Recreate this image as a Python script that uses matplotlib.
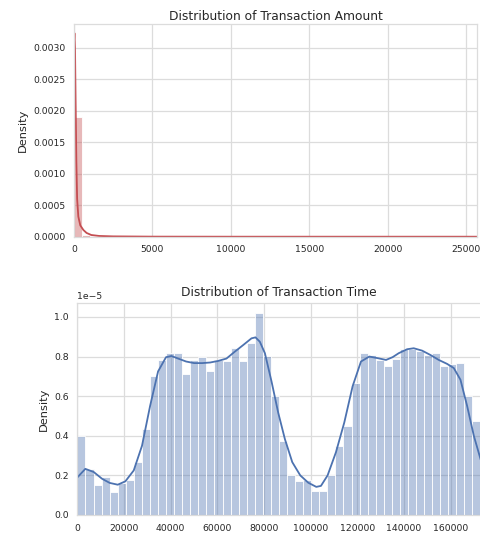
import numpy as np
import matplotlib
matplotlib.use("Agg")
import matplotlib.pyplot as plt

# ---------------- data ----------------
amount_range = [0.0, 25691.16]
amount_hist = [1.9e-3, 3.3e-5, 7.8e-6, 2.9e-6, 1.4e-6, 8e-7, 5e-7, 3e-7, 2e-7, 1.5e-7,
               1e-7, 8e-8, 6e-8, 5e-8, 4e-8, 3e-8, 2e-8, 2e-8, 1e-8, 1e-8,
               1e-8, 1e-8, 5e-9, 5e-9, 5e-9, 5e-9, 5e-9, 3e-9, 3e-9, 3e-9,
               2e-9, 2e-9, 2e-9, 1e-9, 1e-9, 1e-9, 1e-9, 1e-9, 1e-9, 1e-9,
               1e-9, 1e-9, 1e-9, 1e-9, 1e-9, 1e-9, 1e-9, 1e-9, 1e-9, 1e-9]
amount_kde_x = [0, 30, 64, 100, 150, 200, 275, 400, 600, 800, 1100, 1600, 2500, 5000, 10000, 25691.16]
amount_kde_y = [3.10e-3, 3.23e-3, 3.0e-3, 2.2e-3, 1.2e-3, 6.0e-4, 3.2e-4, 1.8e-4, 1.06e-4,
                6.0e-5, 2.7e-5, 1.2e-5, 5e-6, 1e-6, 0.0, 0.0]

time_range = [0.0, 172792.0]
time_hist = [0.40, 0.23, 0.153, 0.19, 0.117, 0.16, 0.175, 0.267, 0.433, 0.703,
             0.783, 0.82, 0.82, 0.713, 0.783, 0.797, 0.728, 0.783, 0.78, 0.845,
             0.778, 0.867, 1.02, 0.803, 0.60, 0.375, 0.20, 0.17, 0.175, 0.12,
             0.12, 0.20, 0.35, 0.45, 0.667, 0.817, 0.81, 0.785, 0.75, 0.79,
             0.84, 0.84, 0.83, 0.81, 0.82, 0.75, 0.76, 0.77, 0.60, 0.475]  # x 1e-5
time_kde_x = [0, 3400, 7000, 10560, 13850, 17300, 20560, 24150, 27700, 31150,
              34580, 38000, 40300, 43170, 46600, 50030, 53460, 56900, 60330, 63900,
              67500, 71050, 74620, 76340, 78200, 80370, 83200, 86070, 88950, 92100,
              95530, 98970, 102400, 104400, 107250, 110830, 114400, 117970, 121560, 125130,
              128700, 132300, 135120, 137740, 141330, 144170, 147760, 151330, 154900, 158480,
              161340, 164200, 167070, 169930, 172792]
time_kde_y = [0.19, 0.233, 0.217, 0.183, 0.162, 0.153, 0.17, 0.225, 0.35, 0.55,
              0.725, 0.797, 0.803, 0.79, 0.775, 0.767, 0.767, 0.77, 0.778, 0.79,
              0.825, 0.858, 0.892, 0.897, 0.875, 0.817, 0.675, 0.517, 0.383, 0.267,
              0.20, 0.163, 0.142, 0.147, 0.20, 0.317, 0.467, 0.65, 0.775, 0.80,
              0.792, 0.783, 0.797, 0.817, 0.837, 0.842, 0.83, 0.808, 0.783, 0.763,
              0.742, 0.683, 0.55, 0.40, 0.283]  # x 1e-5
time_scale = 1e-5

amount_xticks = [0, 5000, 10000, 15000, 20000, 25000]
amount_yticks = [0.0, 0.0005, 0.0010, 0.0015, 0.0020, 0.0025, 0.0030]
time_xticks = [0, 20000, 40000, 60000, 80000, 100000, 120000, 140000, 160000]
time_yticks = [0.0, 0.2e-5, 0.4e-5, 0.6e-5, 0.8e-5, 1.0e-5]

# ---------------- style ----------------
plt.rcParams['font.family'] = ['DejaVu Sans']
TXT = '#262626'
GRID = '#dcdcdc'
TICK_FS = 6.7
TITLE_FS = 8.8
LABEL_FS = 8.2

fig = plt.figure(figsize=(4.8, 5.41), dpi=100)
ax1 = fig.add_axes([74 / 480, 1 - 236.7 / 541, (477 - 74) / 480, (236.7 - 24) / 541])
ax2 = fig.add_axes([77.4 / 480, 1 - 515 / 541, (480.5 - 77.4) / 480, (515 - 302.7) / 541])


def style(ax):
    ax.set_facecolor('white')
    ax.grid(True, color=GRID, linewidth=0.9)
    ax.set_axisbelow(True)
    for s in ax.spines.values():
        s.set_color(GRID)
        s.set_linewidth(0.9)
    ax.tick_params(length=0, pad=6.3, labelsize=TICK_FS, colors=TXT)


# top: amount
edges = np.linspace(amount_range[0], amount_range[1], len(amount_hist) + 1)
ax1.bar(edges[:-1], amount_hist, width=np.diff(edges), align='edge',
        color=(0.769, 0.306, 0.322, 0.4), edgecolor='white', linewidth=0.6)
ax1.plot(amount_kde_x, amount_kde_y, color='#C44E52', linewidth=1.3)
ax1.set_xlim(amount_range)
ax1.set_ylim(0, 0.003376)
ax1.set_xticks(amount_xticks)
ax1.set_yticks(amount_yticks)
ax1.set_yticklabels([f"{v:.4f}" for v in amount_yticks])
ax1.set_ylabel('Density', fontsize=LABEL_FS, color=TXT, labelpad=4)
ax1.set_title('Distribution of Transaction Amount', fontsize=TITLE_FS, color=TXT, pad=3.0)
style(ax1)

# bottom: time
edges2 = np.linspace(time_range[0], time_range[1], len(time_hist) + 1)
ax2.bar(edges2[:-1], np.array(time_hist) * time_scale, width=np.diff(edges2), align='edge',
        color=(0.298, 0.447, 0.690, 0.4), edgecolor='white', linewidth=0.6)
ax2.plot(time_kde_x, np.array(time_kde_y) * time_scale, color='#4C72B0', linewidth=1.3)
ax2.set_xlim(time_range)
ax2.set_ylim(0, 1.072e-5)
ax2.set_xticks(time_xticks)
ax2.set_yticks(time_yticks)
ax2.set_ylabel('Density', fontsize=LABEL_FS, color=TXT, labelpad=4)
ax2.set_title('Distribution of Transaction Time', fontsize=TITLE_FS, color=TXT, pad=4.5, y=1.0)
style(ax2)
ax2.yaxis.get_offset_text().set_fontsize(TICK_FS)
ax2.yaxis.get_offset_text().set_color(TXT)

fig.savefig('out.png', dpi=100, facecolor='white')
